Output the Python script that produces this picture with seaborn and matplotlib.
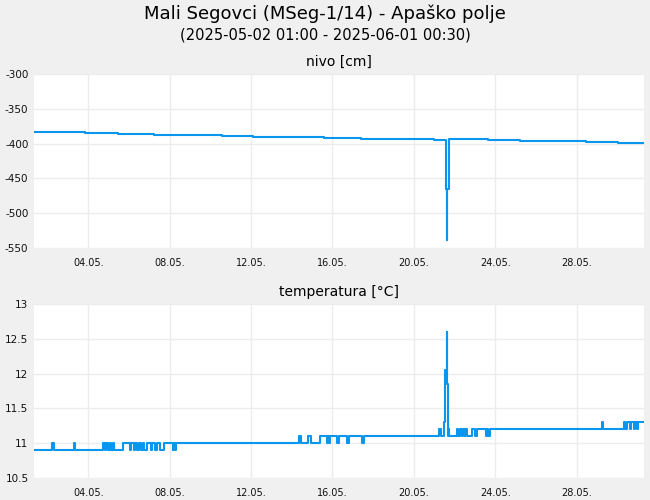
import pandas as pd
import seaborn as sns
import matplotlib.pyplot as plt
import matplotlib.dates as mdates
from matplotlib.ticker import FuncFormatter

# series start / end (from subtitle)
start = pd.Timestamp('2025-05-02 01:00')
end = pd.Timestamp('2025-06-01 00:30')

# water level, change points in days since start
nivo_days = [0.0, 2.50, 4.13, 5.89, 9.23, 10.76, 14.24, 16.09, 19.67,
             20.25, 20.31, 20.32, 20.38, 22.30, 23.87, 27.11, 28.68, 29.98]
nivo_vals = [-383.3, -384.8, -386.2, -387.6, -389.1, -390.1, -391.5, -393.0, -394.8,
             -465.7, -538.5, -465.7, -393.0, -394.4, -395.8, -397.3, -398.7, -398.7]

# temperature, change points in days since start
temp_days = [0.0, 0.90, 1.00, 1.96, 2.03,
             3.37, 3.47, 3.54, 3.63, 3.73, 3.80, 3.88, 3.94, 4.03,
             4.39, 4.72, 4.78, 4.91, 4.98, 5.07, 5.14, 5.27, 5.34, 5.40,
             5.56, 5.73, 5.80, 5.96, 6.03, 6.19, 6.39, 6.81, 6.84, 6.94, 6.97,
             13.03, 13.13, 13.49, 13.59, 14.08, 14.38, 14.44, 14.50, 14.54,
             14.87, 14.97, 15.39, 15.49, 16.11, 16.21,
             19.91, 19.99, 20.17, 20.22, 20.26, 20.29, 20.30, 20.37,
             20.40, 20.42, 20.79, 20.86, 20.92, 21.02, 21.09, 21.17, 21.19,
             21.28, 21.55, 21.65, 21.77, 22.20, 22.26, 22.33, 22.40,
             27.91, 27.95, 28.99, 29.06, 29.16, 29.29, 29.36, 29.48, 29.55,
             29.63, 29.70, 29.98]
temp_vals = [10.9, 11.0, 10.9, 11.0, 10.9,
             11.0, 10.9, 11.0, 10.9, 11.0, 10.9, 11.0, 10.9, 10.9,
             11.0, 10.9, 11.0, 10.9, 11.0, 10.9, 11.0, 10.9, 11.0, 10.9,
             11.0, 10.9, 11.0, 10.9, 11.0, 10.9, 11.0, 10.9, 11.0, 10.9, 11.0,
             11.1, 11.0, 11.1, 11.0, 11.1, 11.0, 11.1, 11.0, 11.1,
             11.0, 11.1, 11.0, 11.1, 11.0, 11.1,
             11.2, 11.1, 11.3, 12.05, 12.0, 12.6, 11.85, 11.1,
             11.2, 11.1, 11.2, 11.1, 11.2, 11.1, 11.2, 11.1, 11.2,
             11.1, 11.2, 11.1, 11.2, 11.1, 11.2, 11.1, 11.2,
             11.3, 11.2, 11.3, 11.2, 11.3, 11.2, 11.3, 11.2, 11.3,
             11.2, 11.3, 11.3]

nivo = pd.DataFrame({'time': start + pd.to_timedelta(nivo_days, unit='D'), 'value': nivo_vals})
temp = pd.DataFrame({'time': start + pd.to_timedelta(temp_days, unit='D'), 'value': temp_vals})

sns.set_theme(style='whitegrid', rc={
    'figure.facecolor': '#f0f0f0',
    'axes.facecolor': 'white',
    'grid.color': '#ececec',
    'grid.linewidth': 1.0,
    'axes.unicode_minus': False,
    'text.color': 'black',
    'axes.titlecolor': 'black',
})
plt.rcParams['font.family'] = ['DejaVu Sans']

line_color = '#0896ee'
fig = plt.figure(figsize=(6.5, 5), dpi=100)
ax1 = fig.add_axes([34 / 650, 1 - 248 / 500, 610 / 650, 174 / 500])
ax2 = fig.add_axes([34 / 650, 1 - 478 / 500, 610 / 650, 174 / 500])

sns.lineplot(data=nivo, x='time', y='value', ax=ax1, color=line_color,
             drawstyle='steps-post', estimator=None, linewidth=1.5)
sns.lineplot(data=temp, x='time', y='value', ax=ax2, color=line_color,
             drawstyle='steps-post', estimator=None, linewidth=1.5)

ticks = pd.date_range('2025-05-04 17:00', periods=7, freq='4D')
for ax in (ax1, ax2):
    ax.set_xlim(start, end)
    ax.set_xticks(ticks)
    ax.xaxis.set_major_formatter(mdates.DateFormatter('%d.%m.'))
    ax.set_xlabel('')
    ax.set_ylabel('')
    for s in ax.spines.values():
        s.set_visible(False)
    ax.tick_params(axis='x', length=0, pad=7, labelsize=7, colors='#111111')
    ax.tick_params(axis='y', length=0, pad=4, labelsize=7.5, colors='#111111')

ax1.set_ylim(-550, -300)
ax1.set_yticks([-550, -500, -450, -400, -350, -300])
ax2.set_ylim(10.5, 13)
ax2.set_yticks([10.5, 11, 11.5, 12, 12.5, 13])
ax2.yaxis.set_major_formatter(FuncFormatter(lambda v, p: f'{v:g}'))

ax1.set_title('nivo [cm]', fontsize=10, pad=6)
ax2.set_title('temperatura [°C]', fontsize=10, pad=6)

fig.text(0.5, 1 - 14 / 500, 'Mali Segovci (MSeg-1/14) - Apaško polje',
         ha='center', va='center', fontsize=13)
fig.text(0.5, 1 - 35 / 500, '(2025-05-02 01:00 - 2025-06-01 00:30)',
         ha='center', va='center', fontsize=10.5)

plt.savefig('out.png', dpi=100, facecolor=fig.get_facecolor())
